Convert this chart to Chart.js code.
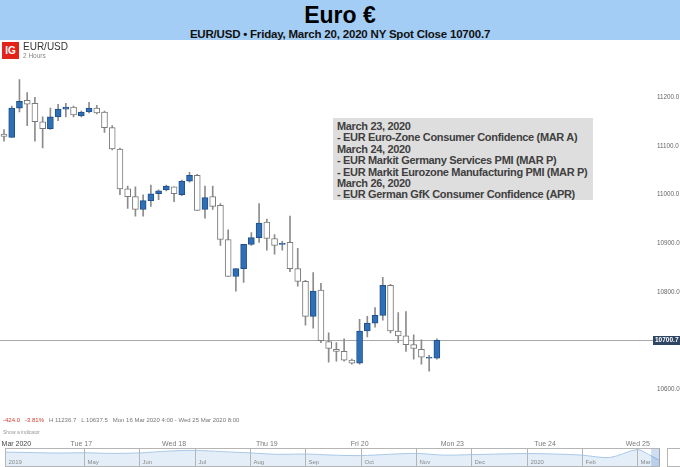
<!DOCTYPE html>
<html>
<head>
<meta charset="utf-8">
<script src="https://cdn.jsdelivr.net/npm/chart.js@4.4.1/dist/chart.umd.min.js"></script>
<style>
  body { margin: 0; width: 680px; height: 467px; overflow: hidden; background: #fff; position: relative;
         font-family: "Liberation Sans", Arial, sans-serif; }
  #hdr { position: absolute; left: 0; top: 0; width: 680px; height: 40px; background: #a3cdf5; text-align: center; z-index: 3; }
  #hdr .t { font-weight: bold; font-size: 23px; line-height: 23px; padding-top: 4px; color: #000; }
  #hdr .s { font-weight: bold; font-size: 11.5px; line-height: 13px; margin-top: 1px; color: #111; letter-spacing: -0.2px; }
  #logo { position: absolute; left: 2px; top: 42px; width: 17px; height: 17px; background: #e2231a; color: #fff;
          font: bold 10px/17px "Liberation Sans", Arial, sans-serif; text-align: center; z-index: 2; }
  #sym { position: absolute; left: 23px; top: 41px; font-size: 10px; color: #333; z-index: 2; }
  #tf { position: absolute; left: 23px; top: 52px; font-size: 6.5px; color: #888; z-index: 2; }
  #note { position: absolute; left: 333px; top: 118px; width: 252px; height: 76px; padding: 3px 4px; background: #dedede;
          color: #404040; font-weight: bold; font-size: 11px; line-height: 11.4px; letter-spacing: -0.33px;
          z-index: 2; white-space: nowrap; }
  #info { position: absolute; left: 3px; top: 417px; font-size: 6px; color: #777; z-index: 2; white-space: pre; }
  #info .r { color: #d83a2e; }
  #ind { position: absolute; left: 3px; top: 429px; font-size: 5px; color: #999; z-index: 2; }
  #main { position: absolute; left: 0; top: 38px; }
  #nav { position: absolute; left: 0; top: 448px; }
</style>
</head>
<body>
<div id="hdr">
  <div class="t">Euro €</div>
  <div class="s">EUR/USD • Friday, March 20, 2020 NY Spot Close 10700.7</div>
</div>
<div id="logo">IG</div>
<div id="sym">EUR/USD</div>
<div id="tf">2 Hours</div>
<div id="note">March 23, 2020<br>- EUR Euro-Zone Consumer Confidence (MAR A)<br>March 24, 2020<br>- EUR Markit Germany Services PMI (MAR P)<br>- EUR Markit Eurozone Manufacturing PMI (MAR P)<br>March 26, 2020<br>- EUR German GfK Consumer Confidence (APR)</div>
<div id="info"><span class="r">-424.0   -3.81%</span>   H 11236.7   L 10637.5   Mon 16 Mar 2020 4:00 - Wed 25 Mar 2020 8:00</div>
<div id="ind">Show a indicator</div>
<canvas id="main" width="680" height="412"></canvas>
<canvas id="nav" width="680" height="19"></canvas>
<script>
  // 2-hour candles, Mon 16 Mar 2020 4:00 to Fri 20 Mar 2020
  const opens  = [11124.7, 11118, 11178, 11194, 11188, 11150, 11136, 11160, 11176, 11180,
                  11162, 11170, 11178, 11170, 11138, 11094, 11012, 10996, 10970, 10988,
                  11002, 11010, 11016, 11000, 11028, 11040, 10970, 10996, 10978, 10908,
                  10832, 10848, 10898, 10912, 10944, 10910, 10898, 10902, 10848, 10822,
                  10750, 10804, 10698, 10682, 10678, 10660, 10654, 10720, 10736, 10752,
                  10814, 10720, 10710, 10692, 10682, 10664, 10664];
  const highs  = [11134, 11182, 11236.7, 11210, 11200, 11160, 11178, 11186, 11188, 11182,
                  11172, 11190, 11184, 11172, 11142, 11096, 11018, 11016, 11000, 11020,
                  11010, 11020, 11016, 11030, 11046, 11042, 11018, 11018, 10982, 10928,
                  10848, 10898, 10922, 10982, 10950, 10918, 10904, 10956, 10890, 10824,
                  10840, 10818, 10716, 10696, 10704, 10662, 10744, 10750, 10768, 10830,
                  10816, 10758, 10760, 10712, 10702, 10670, 10704];
  const lows   = [11110, 11118, 11170, 11142, 11110, 11096, 11134, 11152, 11160, 11160,
                  11160, 11168, 11166, 11128, 11092, 11000, 10972, 10956, 10956, 10976,
                  10990, 11008, 10986, 10998, 11026, 10968, 10952, 10970, 10896, 10832,
                  10802, 10820, 10896, 10902, 10886, 10878, 10886, 10842, 10812, 10732,
                  10726, 10696, 10656, 10658, 10658, 10652, 10652, 10708, 10728, 10742,
                  10716, 10696, 10678, 10662, 10652, 10637.5, 10662];
  const closes = [11120, 11178, 11192, 11186, 11150, 11136, 11160, 11176, 11180, 11164,
                  11170, 11178, 11168, 11138, 11094, 11012, 10996, 10970, 10988, 11002,
                  11008, 11018, 11002, 11028, 11040, 10968, 10994, 10976, 10908, 10832,
                  10848, 10898, 10912, 10942, 10910, 10896, 10900, 10848, 10822, 10750,
                  10802, 10700, 10684, 10678, 10660, 10654, 10720, 10736, 10752, 10814,
                  10720, 10710, 10692, 10684, 10666, 10666, 10700.7];
  const lastClose = 10700.7;

  const priceTicks = [10600, 10700, 10800, 10900, 11000, 11100, 11200];
  const dayLabels = ['Mar 2020', 'Tue 17', 'Wed 18', 'Thu 19', 'Fri 20', 'Mon 23', 'Tue 24', 'Wed 25'];
  const dayIndex  = [1.6, 10, 22, 34, 46, 58, 70, 82];

  // navigator (long history), months from Apr 2019
  const navTimes  = [-0.43, 0, 0.5, 1, 1.5, 2, 2.5, 3, 3.5, 4, 4.5, 5, 5.5, 6, 6.5, 7, 7.5,
                     8, 8.5, 9, 9.5, 10, 10.5, 11, 11.2, 11.41];
  const navValues = [11240, 11215, 11180, 11200, 11160, 11190, 11300, 11350, 11270, 11190, 11100,
                     11120, 11050, 11020, 11100, 11160, 11050, 11080, 11120, 11150, 11120, 11050,
                     10900, 11400, 11100, 10700];
  const navLabels = ['2019', 'May', 'Jun', 'Jul', 'Aug', 'Sep', 'Oct', 'Nov', 'Dec', '2020', 'Feb', 'Mar'];
  const navMonths = [-0.43, 1, 2, 3, 4, 5, 6, 7, 8, 9, 10, 11];

  const up = opens.map((o, i) => closes[i] >= o);

  const lastLine = {
    id: 'lastLine',
    beforeDatasetsDraw(chart) {
      const { ctx, chartArea, scales: { y } } = chart;
      const py = Math.round(y.getPixelForValue(lastClose)) + 0.5;
      ctx.save();
      ctx.strokeStyle = '#a8a8a8';
      ctx.lineWidth = 1;
      ctx.beginPath();
      ctx.moveTo(chartArea.left, py);
      ctx.lineTo(chartArea.right + 3, py);
      ctx.stroke();
      ctx.restore();
    },
    afterDraw(chart) {
      const { ctx, chartArea, scales: { y } } = chart;
      const py = Math.round(y.getPixelForValue(lastClose));
      ctx.save();
      ctx.fillStyle = '#2e4563';
      ctx.fillRect(chartArea.right + 3, py - 4, 27, 9);
      ctx.fillStyle = '#fff';
      ctx.font = 'bold 6.5px "Liberation Sans", Arial';
      ctx.textBaseline = 'middle';
      ctx.fillText(lastClose.toFixed(1), chartArea.right + 5, py + 0.5);
      ctx.restore();
    }
  };

  new Chart(document.getElementById('main'), {
    type: 'bar',
    data: {
      datasets: [{
        // bodies
        data: opens.map((o, i) => ({ x: i, y: [o, closes[i]] })),
        backgroundColor: up.map(u => u ? '#2f6fb6' : '#ffffff'),
        borderColor: up.map(u => u ? '#1f4f8c' : '#7a7a7a'),
        borderWidth: 1,
        borderSkipped: false,
        barThickness: 6,
        grouped: false,
        order: 1
      }, {
        // wicks
        data: lows.map((l, i) => ({ x: i, y: [l, highs[i]] })),
        backgroundColor: '#8c8c8c',
        barThickness: 1,
        grouped: false,
        order: 2
      }]
    },
    options: {
      responsive: false,
      animation: false,
      layout: { padding: 0 },
      plugins: { legend: { display: false }, tooltip: { enabled: false } },
      scales: {
        x: {
          type: 'linear',
          offset: false,
          min: -0.517,
          max: 83.57,
          grid: { display: false, drawTicks: false },
          border: { display: false },
          ticks: {
            padding: 2,
            font: { size: 7, family: '"Liberation Sans", Arial' },
            color: c => c.index === 0 ? '#444' : '#7a7a7a',
            maxRotation: 0,
            autoSkip: false,
            callback: v => dayLabels[dayIndex.indexOf(v)]
          },
          afterBuildTicks: s => { s.ticks = dayIndex.map(v => ({ value: v })); },
          afterFit: s => { s.height = 12; s.paddingLeft = 0; s.paddingRight = 0; }
        },
        y: {
          position: 'right',
          min: 10500,
          max: 11300,
          grid: { display: false, drawTicks: false },
          border: { display: false },
          ticks: {
            padding: 7,
            font: { size: 6.3, family: '"Liberation Sans", Arial' },
            color: '#666',
            callback: v => v.toFixed(1)
          },
          afterBuildTicks: s => { s.ticks = priceTicks.map(v => ({ value: v })); },
          afterFit: s => { s.width = 30; }
        }
      }
    },
    plugins: [lastLine]
  });

  const navDeco = {
    id: 'navDeco',
    afterDraw(chart) {
      const { ctx, chartArea, scales: { x } } = chart;
      ctx.save();
      ctx.strokeStyle = '#b5b5b5';
      ctx.lineWidth = 1;
      ctx.font = '6px "Liberation Sans", Arial';
      ctx.fillStyle = '#8a8a8a';
      ctx.textBaseline = 'middle';
      navMonths.forEach((m, i) => {
        const px = Math.round(x.getPixelForValue(m)) + 0.5;
        if (i > 0) {
          ctx.beginPath();
          ctx.moveTo(px, chartArea.top);
          ctx.lineTo(px, chartArea.bottom);
          ctx.stroke();
        }
        ctx.fillText(navLabels[i], px + 3, chartArea.bottom - 5);
      });
      ctx.strokeRect(chartArea.left + 0.5, chartArea.top + 0.5, chartArea.width - 1, chartArea.height - 1);
      // selection window at the right end
      const sx = x.getPixelForValue(11.25);
      ctx.fillStyle = 'rgba(60,120,190,0.25)';
      ctx.fillRect(sx, chartArea.top + 1, chartArea.right - sx, chartArea.height - 2);
      ctx.strokeRect(chartArea.right + 7.5, chartArea.top + 0.5, 15, chartArea.height - 1);
      ctx.restore();
    }
  };

  new Chart(document.getElementById('nav'), {
    type: 'line',
    data: {
      datasets: [{
        data: navTimes.map((t, i) => ({ x: t, y: navValues[i] })),
        borderColor: '#a9c8e8',
        backgroundColor: '#e4eef9',
        borderWidth: 1,
        fill: 'start',
        pointRadius: 0,
        tension: 0.3
      }]
    },
    options: {
      responsive: false,
      animation: false,
      layout: { padding: { left: 5, right: 20, top: 0, bottom: 0 } },
      plugins: { legend: { display: false }, tooltip: { enabled: false } },
      scales: {
        x: { type: 'linear', display: false, min: -0.43, max: 11.41 },
        y: { display: false, min: 10300, max: 11500 }
      }
    },
    plugins: [navDeco]
  });
</script>
</body>
</html>
